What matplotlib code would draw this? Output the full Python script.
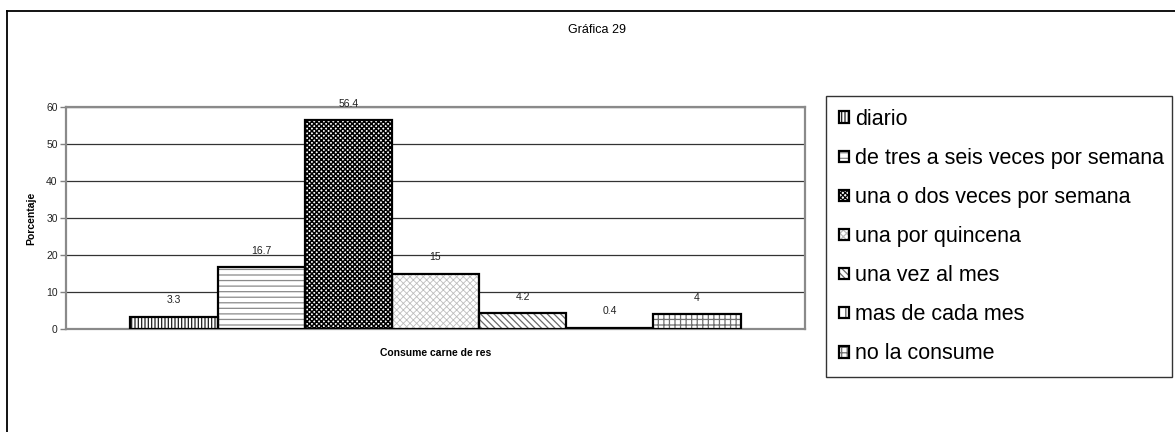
import numpy as np
import matplotlib
matplotlib.use("Agg")
from matplotlib import pyplot as plt
from matplotlib.lines import Line2D
from matplotlib.legend_handler import HandlerTuple

plt.rcParams["font.family"] = ["Liberation Sans", "DejaVu Sans"]

# Consume carne de res (porcentaje)
categorias = ["diario", "de tres a seis veces por semana", "una o dos veces por semana",
              "una por quincena", "una vez al mes", "mas de cada mes", "no la consume"]
porcentajes = [3.3, 16.7, 56.4, 15, 4.2, 0.4, 4]
etiquetas = ["3.3", "16.7", "56.4", "15", "4.2", "0.4", "4"]

# relleno de cada barra: (trama, color de la trama, grosor de la trama)
tramas = [("|||||", "#202020", 0.9), ("---", "#8a8a8a", 0.9), ("xxxxxxx", "#000000", 1.1),
          ("xxxxx", "#bdbdbd", 0.6), ("\\\\\\\\\\", "#6a6a6a", 0.9), ("||", "#555555", 0.9),
          ("+++", "#707070", 0.9)]

W, H = 1175, 432
fig = plt.figure(figsize=(W / 100, H / 100), dpi=100)
ax = fig.add_axes([66 / W, 1 - 329 / H, (805 - 66) / W, (329 - 107) / H])

x = np.arange(len(porcentajes))
handles = []
for i, (v, (h, c, lw)) in enumerate(zip(porcentajes, tramas)):
    plt.rcParams["hatch.linewidth"] = lw
    relleno = ax.bar(x[i], v, width=1.0, color="white", hatch=h, edgecolor=c,
                     linewidth=0, zorder=3)
    borde = ax.bar(x[i], v, width=1.0, fill=False, edgecolor="black",
                   linewidth=1.6, zorder=4)
    handles.append((relleno[0], borde[0]))
    ax.annotate(etiquetas[i], (x[i], v), xytext=(0, 12), textcoords="offset points",
                ha="center", va="center", fontsize=7.5, color="#222222")

ax.set_xlim(-0.5 - 0.74, len(porcentajes) - 0.5 + 0.74)
ax.set_ylim(0, 60)
ax.set_yticks(range(0, 61, 10))
ax.set_xticks([])
ax.tick_params(axis="y", labelsize=7.5, length=4, width=1, color="#808080",
               pad=2, labelcolor="#222222")
ax.yaxis.grid(True, color="#333333", linewidth=0.9, zorder=1)
for s in ax.spines.values():
    s.set_color("#8a8a8a")
    s.set_linewidth(1.6)

ax.set_xlabel("Consume carne de res", fontsize=7.5, fontweight="bold", labelpad=14)
ax.set_ylabel("Porcentaje", fontsize=7.5, fontweight="bold", labelpad=7)
fig.text(597 / W, 1 - 30 / H, "Gráfica 29", ha="center", va="center", fontsize=9)

leg = fig.legend(handles, categorias, handler_map={tuple: HandlerTuple(ndivide=1)},
                 loc="upper left", mode="expand",
                 bbox_to_anchor=(826 / W, 1 - 372 / H, (1172 - 826) / W, (372 - 96) / H),
                 fontsize=15.5, frameon=True, fancybox=False, borderaxespad=0,
                 handlelength=0.45, handleheight=0.45, handletextpad=0.3,
                 labelspacing=0.84, borderpad=0.6)
leg.get_frame().set_edgecolor("black")
leg.get_frame().set_linewidth(1.0)

# marco exterior del gráfico
fig.add_artist(Line2D([7 / W, 7 / W], [1 - 11 / H, -0.01], transform=fig.transFigure,
                      color="black", linewidth=1.3))
fig.add_artist(Line2D([7 / W, 1.01], [1 - 11 / H, 1 - 11 / H], transform=fig.transFigure,
                      color="black", linewidth=1.3))

fig.savefig("out.png", dpi=100, facecolor="white")
